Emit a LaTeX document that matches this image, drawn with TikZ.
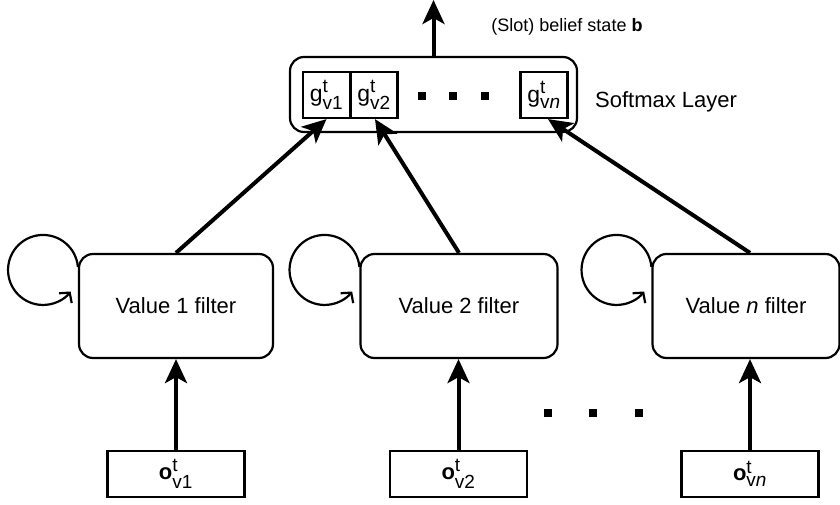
\documentclass[tikz,border=0pt]{standalone}
\usepackage{amsmath}
\usepackage{fontspec}
\setmainfont{Liberation Sans}
\usetikzlibrary{arrows.meta}
\newcommand\scr[1]{\text{\fontsize{19}{19}\selectfont #1}}
\tikzset{
  big/.style={font=\fontsize{22}{26}\selectfont},
  softbox/.style={draw, rounded corners=14pt, line width=2.2pt, minimum width=287pt, minimum height=75pt, inner sep=0pt},
  gbox/.style={draw, line width=2.2pt, minimum width=47pt, minimum height=46pt, inner sep=0pt, font=\fontsize{23}{26}\selectfont},
  filt/.style={draw, rounded corners=14pt, line width=2.2pt, minimum height=104pt, inner sep=0pt, big},
  obs/.style={draw, line width=2.2pt, minimum width=137pt, minimum height=46pt, inner sep=0pt, big},
  dotsq/.style={fill, minimum size=8pt, inner sep=0pt},
  conn/.style={line width=4pt, -{Stealth[length=24pt, width=22pt, inset=6pt]}},
  selfloop/.style={line width=2.2pt, -{Straight Barb[length=7pt, width=16pt, line width=2.2pt]}},
}
\begin{document}
\begin{tikzpicture}[x=1pt, y=1pt]
\useasboundingbox (0,0) rectangle (840,504);
% softmax layer
\node[softbox] (soft) at (433.5,409.5) {};
\node[gbox] (g1) at (326.5,409) {$\text{g}^{\scr{t}}_{\scr{v1}}$};
\node[gbox] (g2) at (374,409) {$\text{g}^{\scr{t}}_{\scr{v2}}$};
\node[gbox] (gn) at (544,409) {$\text{g}^{\scr{t}}_{\scr{v\textit{n}}}$};
\node[dotsq] (d1) at (422,408) {};
\node[dotsq] (d2) at (453,408) {};
\node[dotsq] (d3) at (485,408) {};
\node[big, anchor=west, inner sep=0pt] (softlab) at (595,402) {Softmax Layer};
\node[font=\fontsize{18}{22}\selectfont, inner sep=0pt] (belief) at (567,477) {(Slot) belief state \textbf{b}};
\coordinate (top) at (433.5,504);
\draw[conn] (soft.north) -- (top);
% filters
\node[filt, minimum width=194pt] (f1) at (176,198) {Value 1 filter};
\node[filt, minimum width=197pt] (f2) at (459,198) {Value 2 filter};
\node[filt, minimum width=187pt] (fn) at (746,198) {Value \textit{n} filter};
% self loops
\foreach \f in {f1,f2,fn}{
  \draw[selfloop] ([yshift=-14pt]\f.north west) arc[start angle=5, end angle=322, radius=35pt];
}
% observations
\node[obs] (o1) at (176,30) {$\text{\textbf{o}}^{\scr{t}}_{\scr{v1}}$};
\node[obs] (o2) at (458.5,30) {$\text{\textbf{o}}^{\scr{t}}_{\scr{v2}}$};
\node[obs] (on) at (750,30) {$\text{\textbf{o}}^{\scr{t}}_{\scr{v\textit{n}}}$};
\node[dotsq] (e1) at (548,91) {};
\node[dotsq] (e2) at (593,91) {};
\node[dotsq] (e3) at (639,91) {};
% connectors
\draw[conn] (o1.north) -- (o1.north |- f1.south);
\draw[conn] (o2.north) -- (o2.north |- f2.south);
\draw[conn] (on.north) -- (on.north |- fn.south);
\draw[conn] (f1.north) -- (g1.south);
\draw[conn] (f2.north) -- ([xshift=1pt]g2.south);
\draw[conn] (on.north |- fn.north) -- ([xshift=4pt]gn.south);
\end{tikzpicture}
\end{document}
